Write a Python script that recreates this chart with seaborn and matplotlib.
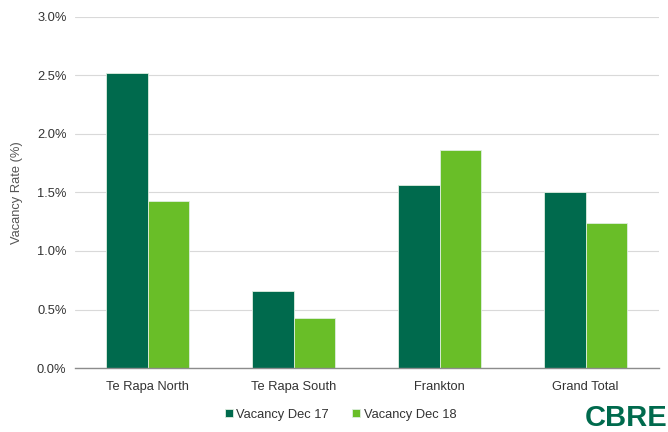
import matplotlib
matplotlib.use("Agg")
import matplotlib.pyplot as plt
import seaborn as sns
import pandas as pd
from matplotlib.ticker import FuncFormatter, MultipleLocator

categories = ["Te Rapa North", "Te Rapa South", "Frankton", "Grand Total"]
series_names = ["Vacancy Dec 17", "Vacancy Dec 18"]
dec17 = [2.52, 0.66, 1.56, 1.50]
dec18 = [1.43, 0.43, 1.86, 1.24]

df = pd.DataFrame({
    "Area": categories * 2,
    "Series": [series_names[0]] * 4 + [series_names[1]] * 4,
    "Rate": dec17 + dec18,
})

sns.set_style("white")
plt.rcParams["font.family"] = ["Liberation Sans", "DejaVu Sans"]

fig = plt.figure(figsize=(6.68, 4.32), dpi=100)
ax = fig.add_axes([0.112, 0.148, 0.874, 0.813])

palette = {series_names[0]: "#006A4D", series_names[1]: "#69BE28"}
sns.barplot(data=df, x="Area", y="Rate", hue="Series", palette=palette,
            width=0.57, ax=ax, edgecolor="#dfeee0", linewidth=0.6, saturation=1)

ax.set_ylim(0, 3.0)
ax.yaxis.set_major_locator(MultipleLocator(0.5))
ax.yaxis.set_major_formatter(FuncFormatter(lambda v, p: f"{v:.1f}%"))
ax.grid(axis="y", color="#d9d9d9", linewidth=0.8)
ax.set_axisbelow(True)
for s in ["top", "right", "left"]:
    ax.spines[s].set_visible(False)
ax.spines["bottom"].set_color("#8c8c8c")
ax.spines["bottom"].set_linewidth(1.0)
ax.tick_params(axis="both", length=0, labelsize=9.3, colors="#333333")
ax.tick_params(axis="y", pad=6)
ax.tick_params(axis="x", pad=9)
ax.set_xlabel("")
ax.set_ylabel("Vacancy Rate (%)", fontsize=9.3, color="#555555", labelpad=10)
ax.set_xlim(-0.5, 3.5)

ax.legend_.remove()
handles, labels = ax.get_legend_handles_labels()
fig.legend(handles, labels, loc="center", bbox_to_anchor=(0.51, 0.040), ncol=2,
           frameon=False, fontsize=9.3, handlelength=0.6, handleheight=0.6,
           handletextpad=0.3, columnspacing=1.8, labelcolor="#333333")

fig.text(1.0, 0.032, "CBRE", ha="right", va="center", fontsize=21,
         fontweight="bold", color="#006A4D", family=["Liberation Sans"])

fig.savefig("out.png", dpi=100)
